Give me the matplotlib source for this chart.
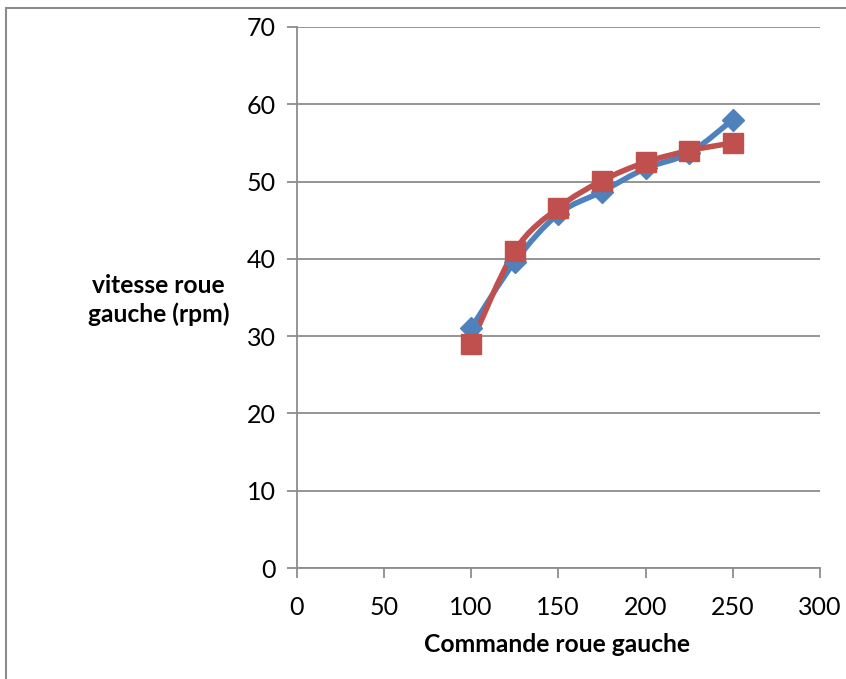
import matplotlib
matplotlib.use("Agg")
import matplotlib.pyplot as plt
from matplotlib.path import Path
from matplotlib.patches import PathPatch, Rectangle

commande = [100, 125, 150, 175, 200, 225, 250]
vitesse_1 = [31.0, 39.6, 45.8, 48.7, 51.7, 53.7, 58.0]
vitesse_2 = [29.0, 41.0, 46.6, 50.1, 52.5, 54.0, 55.0]
x_ticks = [0, 50, 100, 150, 200, 250, 300]
y_ticks = [0, 10, 20, 30, 40, 50, 60, 70]

BLUE = "#4F81BD"
RED = "#C0504D"
GRID = "#8C8C8C"
FONT = ["Lato", "DejaVu Sans"]

def smooth_path(xs, ys):
    pts = list(zip(xs, ys))
    n = len(pts)
    verts = [pts[0]]
    codes = [Path.MOVETO]
    for i in range(n - 1):
        p0 = pts[i - 1] if i > 0 else pts[i]
        p1 = pts[i]
        p2 = pts[i + 1]
        p3 = pts[i + 2] if i + 2 < n else pts[i + 1]
        c1 = (p1[0] + (p2[0] - p0[0]) / 6, p1[1] + (p2[1] - p0[1]) / 6)
        c2 = (p2[0] - (p3[0] - p1[0]) / 6, p2[1] - (p3[1] - p1[1]) / 6)
        verts += [c1, c2, p2]
        codes += [Path.CURVE4] * 3
    return Path(verts, codes)

fig = plt.figure(figsize=(8.46, 6.79), dpi=100)
fig.patches.append(Rectangle((6 / 846, -0.1), 1.2, (1 - 8 / 679) + 0.1,
                             transform=fig.transFigure, fill=False,
                             edgecolor="#8C8C8C", linewidth=1.5))

ax = fig.add_axes([296.5 / 846, 1 - 568 / 679, (820 - 296.5) / 846, (568 - 27) / 679])
ax.set_xlim(0, 300)
ax.set_ylim(0, 70)
ax.set_xticks(x_ticks)
ax.set_yticks(y_ticks)
ax.yaxis.grid(True, color=GRID, linewidth=1.3)
ax.set_axisbelow(True)
for s in ["top", "right"]:
    ax.spines[s].set_visible(False)
for s in ["left", "bottom"]:
    ax.spines[s].set_color(GRID)
    ax.spines[s].set_linewidth(1.3)
ax.tick_params(axis="both", direction="out", length=7, width=1.3, color=GRID,
               labelsize=18, labelcolor="black")
ax.tick_params(axis="y", pad=8)
ax.tick_params(axis="x", pad=13)
for lbl in ax.get_xticklabels() + ax.get_yticklabels():
    lbl.set_family(FONT)

for ys, color, marker, ms in [(vitesse_1, BLUE, "D", 11), (vitesse_2, RED, "s", 14)]:
    patch = PathPatch(smooth_path(commande, ys), fill=False, edgecolor=color,
                      linewidth=4.0, transform=ax.transData, capstyle="round",
                      joinstyle="round", clip_on=False)
    ax.add_patch(patch)
    ax.plot(commande, ys, linestyle="none", marker=marker, markersize=ms,
            color=color, markeredgecolor=color, clip_on=False)

fig.text(557 / 846, 1 - 644 / 679, "Commande roue gauche", fontsize=17.7,
         fontweight="bold", family=FONT, ha="center", va="center")
fig.text(158.5 / 846, 1 - 300 / 679, "vitesse roue\ngauche (rpm)", fontsize=17.7,
         fontweight="bold", family=FONT, ha="center", va="center", linespacing=1.3)

fig.savefig("out.png", dpi=100)
